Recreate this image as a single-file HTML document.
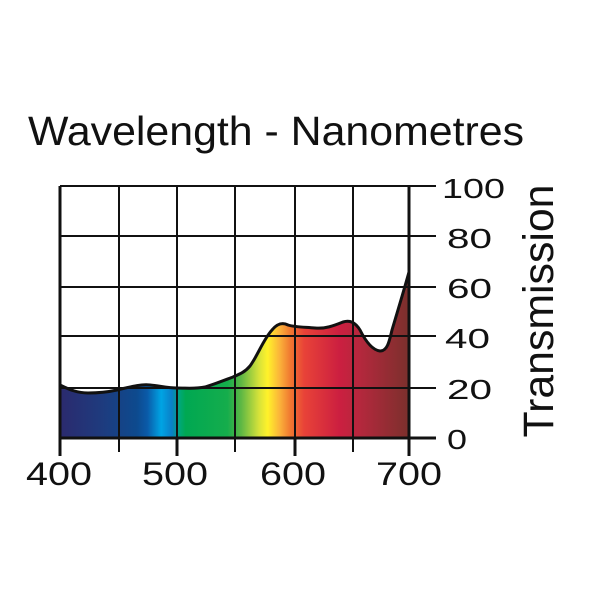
<!DOCTYPE html>
<html><head><style>body{margin:0;background:#fff}svg{display:block}</style></head><body>
<svg width="600" height="600" xmlns="http://www.w3.org/2000/svg" font-family="Liberation Sans, Arial, sans-serif">
<defs>
<linearGradient id="sp" gradientUnits="userSpaceOnUse" x1="60" y1="0" x2="409" y2="0">
<stop offset="0" stop-color="#2b2a6e"/>
<stop offset="0.12" stop-color="#1e3b7e"/>
<stop offset="0.22" stop-color="#0d4a8e"/>
<stop offset="0.25" stop-color="#0a5aa8"/>
<stop offset="0.29" stop-color="#00a4e4"/>
<stop offset="0.32" stop-color="#0a80c8"/>
<stop offset="0.345" stop-color="#00a873"/>
<stop offset="0.36" stop-color="#00a852"/>
<stop offset="0.48" stop-color="#15ad4c"/>
<stop offset="0.52" stop-color="#60b844"/>
<stop offset="0.57" stop-color="#d6e23a"/>
<stop offset="0.595" stop-color="#fff22a"/>
<stop offset="0.63" stop-color="#fbb23a"/>
<stop offset="0.66" stop-color="#f07830"/>
<stop offset="0.70" stop-color="#e84238"/>
<stop offset="0.80" stop-color="#cc1f40"/>
<stop offset="0.86" stop-color="#b4283d"/>
<stop offset="1" stop-color="#7b302c"/>
</linearGradient>
</defs>
<text x="28" y="145" font-size="41" textLength="496" lengthAdjust="spacingAndGlyphs" fill="#111">Wavelength - Nanometres</text>
<path d="M60,385 C70,390 78,393 88,393 C100,393 108,392 117,390 C130,387 140,384 150,385 C160,386 168,388 177,388 C188,388 195,389 205,387 C215,384 225,380 233,377 C240,374 245,372 250,366 C258,355 263,340 272,330 C277,324 282,322 288,325 C294,327 302,327 315,328 C325,329 333,326 343,322 C350,320 355,322 360,330 C365,340 372,350 380,351 C387,351 389,343 392,330 C398,310 404,290 409,272 L409,438 L60,438 Z" fill="url(#sp)"/>
<g stroke="#111" stroke-width="2" fill="none">
<line x1="60" y1="186" x2="436" y2="186"/>
<line x1="60" y1="236" x2="436" y2="236"/>
<line x1="60" y1="287" x2="436" y2="287"/>
<line x1="60" y1="336" x2="436" y2="336"/>
<line x1="60" y1="388" x2="436" y2="388"/>
<line x1="119" y1="186" x2="119" y2="452"/>
<line x1="177" y1="186" x2="177" y2="438"/>
<line x1="235" y1="186" x2="235" y2="452"/>
<line x1="295" y1="186" x2="295" y2="438"/>
<line x1="353" y1="186" x2="353" y2="452"/>
</g>
<g stroke="#111" stroke-width="3" fill="none">
<line x1="60" y1="186" x2="60" y2="456"/>
<line x1="409" y1="186" x2="409" y2="456"/>
<line x1="177" y1="438" x2="177" y2="456"/>
<line x1="295" y1="438" x2="295" y2="456"/>
<line x1="59" y1="438" x2="436" y2="438"/>
</g>
<path d="M60,385 C70,390 78,393 88,393 C100,393 108,392 117,390 C130,387 140,384 150,385 C160,386 168,388 177,388 C188,388 195,389 205,387 C215,384 225,380 233,377 C240,374 245,372 250,366 C258,355 263,340 272,330 C277,324 282,322 288,325 C294,327 302,327 315,328 C325,329 333,326 343,322 C350,320 355,322 360,330 C365,340 372,350 380,351 C387,351 389,343 392,330 C398,310 404,290 409,272" stroke="#111" stroke-width="3" fill="none"/>
<g font-size="28" fill="#111">
<text x="442" y="198" textLength="63" lengthAdjust="spacingAndGlyphs">100</text>
<text x="447" y="248" textLength="45" lengthAdjust="spacingAndGlyphs">80</text>
<text x="447" y="298" textLength="45" lengthAdjust="spacingAndGlyphs">60</text>
<text x="445" y="348" textLength="45" lengthAdjust="spacingAndGlyphs">40</text>
<text x="447" y="399" textLength="45" lengthAdjust="spacingAndGlyphs">20</text>
<text x="447" y="449" textLength="20" lengthAdjust="spacingAndGlyphs">0</text>
</g>
<g font-size="32" fill="#111">
<text x="26" y="485" textLength="66" lengthAdjust="spacingAndGlyphs">400</text>
<text x="142" y="485" textLength="66" lengthAdjust="spacingAndGlyphs">500</text>
<text x="260" y="485" textLength="66" lengthAdjust="spacingAndGlyphs">600</text>
<text x="376" y="485" textLength="66" lengthAdjust="spacingAndGlyphs">700</text>
</g>
<text transform="translate(553,311) rotate(-90)" font-size="43" text-anchor="middle" textLength="253" lengthAdjust="spacingAndGlyphs" fill="#111">Transmission</text>
</svg>
</body></html>
